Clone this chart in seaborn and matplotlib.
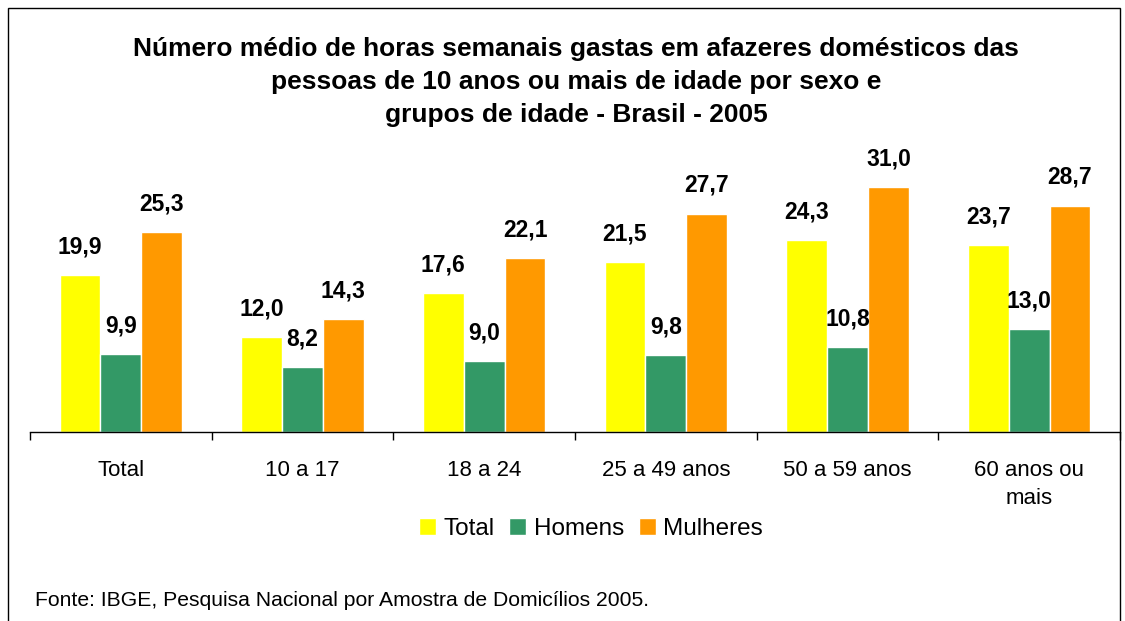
import pandas as pd
import seaborn as sns
import matplotlib.pyplot as plt
from matplotlib.patches import Rectangle

grupos = ["Total", "10 a 17", "18 a 24", "25 a 49 anos", "50 a 59 anos", "60 anos ou\nmais"]
total = [19.9, 12.0, 17.6, 21.5, 24.3, 23.7]
homens = [9.9, 8.2, 9.0, 9.8, 10.8, 13.0]
mulheres = [25.3, 14.3, 22.1, 27.7, 31.0, 28.7]
series = ["Total", "Homens", "Mulheres"]
cores = ["#FFFF00", "#339966", "#FF9900"]

df = pd.DataFrame({
    "grupo": grupos * 3,
    "serie": [s for s in series for _ in grupos],
    "horas": total + homens + mulheres,
})

sns.set_style("white")
plt.rcParams['font.family'] = ['Liberation Sans', 'DejaVu Sans']
plt.rcParams['text.color'] = 'black'
plt.rcParams['xtick.color'] = 'black'
plt.rcParams['xtick.bottom'] = True

fig = plt.figure(figsize=(11.25, 6.21), dpi=100)
ax = fig.add_axes([30/1125, (621-432)/621, 1090/1125, 280/621])

sns.barplot(data=df, x="grupo", y="horas", hue="serie", hue_order=series,
            palette=cores, width=0.675, saturation=1, ax=ax, legend=True)

for c in ax.containers:
    ax.bar_label(c, labels=[f"{v:.1f}".replace(".", ",") for v in c.datavalues],
                 padding=12, fontsize=16.5, fontweight="bold")

ax.set_ylim(0, 35.5)
ax.set_xlim(-0.5, 5.5)
ax.set_xlabel("")
ax.set_ylabel("")
ax.set_yticks([])
for s in ["left", "right", "top"]:
    ax.spines[s].set_visible(False)
ax.spines["bottom"].set_color("black")
ax.spines["bottom"].set_linewidth(1)
ax.tick_params(axis="x", which="major", length=0, pad=20, labelsize=16, labelcolor="black")
for t in ax.get_xticklabels():
    t.set_linespacing(1.45)
ax.set_xticks([i - 0.5 for i in range(7)], minor=True)
ax.tick_params(axis="x", which="minor", bottom=True, length=6, color="black", width=1, direction="out")

h, l = ax.get_legend_handles_labels()
ax.get_legend().remove()
fig.legend(h, l, loc="center", bbox_to_anchor=(591/1125, 1 - 529/621), ncol=3,
           frameon=False, fontsize=17.5, handlelength=0.7, handleheight=0.7,
           handletextpad=0.3, columnspacing=0.6, borderpad=0)

fig.text(576/1125, 1 - 82/621,
         "Número médio de horas semanais gastas em afazeres domésticos das\n"
         "pessoas de 10 anos ou mais de idade por sexo e\n"
         "grupos de idade - Brasil - 2005",
         ha="center", va="center", fontsize=19, fontweight="bold", linespacing=1.48)

fig.text(35/1125, 1 - 601/621,
         "Fonte: IBGE, Pesquisa Nacional por Amostra de Domicílios 2005.",
         ha="left", va="center", fontsize=15.2)

fig.patches.append(Rectangle((8/1125, -0.1), 1112/1125, 1.1 - 8/621,
                             transform=fig.transFigure, fill=False,
                             edgecolor="black", linewidth=1))

fig.savefig("out.png", dpi=100)
